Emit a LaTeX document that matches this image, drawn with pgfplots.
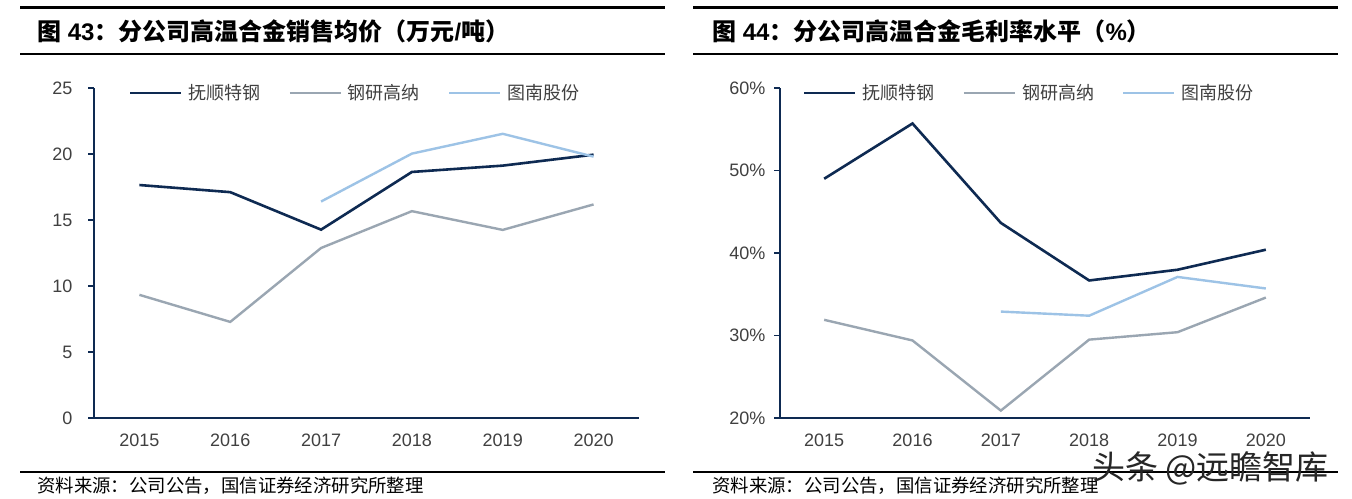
\documentclass[border=0pt]{standalone}
\usepackage{pgfplots}
\pgfplotsset{compat=1.18}
\usepackage{fontspec}
\setmainfont{Liberation Sans}
\newfontfamily\cjk{Noto Sans CJK SC}
\definecolor{navy}{HTML}{0E2A52}
\definecolor{gry}{HTML}{9AA6B2}
\definecolor{lblue}{HTML}{9DC3E6}
\definecolor{tickc}{HTML}{404040}
\pgfplotsset{
  myax/.style={
    scale only axis, height=330pt,
    xmin=-0.5, xmax=5.5,
    xtick={0,...,5}, xticklabels={2015,2016,2017,2018,2019,2020},
    axis x line*=bottom, axis y line*=left,
    axis line style={navy, line width=1.4pt, -},
    x tick style={draw=none},
    y tick style={navy, line width=1.2pt},
    tick align=outside, major tick length=6pt,
    tick label style={font=\fontsize{18}{18}\selectfont, text=tickc},
    xticklabel style={yshift=-6pt},
    /pgf/number format/assume math mode=true,
    legend columns=3,
    legend style={draw=none, fill=none, inner sep=0pt, outer sep=0pt,
      nodes={inner sep=0pt, font=\cjk\fontsize{18}{18}\selectfont, text=tickc},
      /tikz/every odd column/.append style={column sep=6pt},
      /tikz/every even column/.append style={column sep=28pt}},
    legend image code/.code={\draw[#1] (0pt,0pt) -- (51pt,0pt);},
    clip=false,
  },
  s1/.style={navy, line width=2.6pt},
  s2/.style={gry, line width=2.4pt},
  s3/.style={lblue, line width=2.4pt},
}
\begin{document}
\begin{tikzpicture}
\path[use as bounding box, fill=white] (0pt,0pt) rectangle (1352pt,-498pt);
% header / footer rules
\draw[line width=2.2pt] (20pt,-7.5pt) -- (665pt,-7.5pt);
\draw[line width=2.2pt] (20pt,-54pt) -- (665pt,-54pt);
\draw[line width=2.2pt] (693pt,-7.5pt) -- (1338pt,-7.5pt);
\draw[line width=2.2pt] (693pt,-54pt) -- (1338pt,-54pt);
\draw[line width=2.2pt] (20pt,-472pt) -- (665pt,-472pt);
\draw[line width=2.2pt] (693pt,-472pt) -- (1338pt,-472pt);
% titles
\node[anchor=west, inner sep=0pt] at (37pt,-31pt) {\fontsize{24}{24}\selectfont\bfseries{\cjk 图} 43{\cjk ：分公司高温合金销售均价（万元}/{\cjk 吨）}};
\node[anchor=west, inner sep=0pt] at (712pt,-31pt) {\fontsize{24}{24}\selectfont\bfseries{\cjk 图} 44{\cjk ：分公司高温合金毛利率水平（}\%{\cjk ）}};
% sources
\node[anchor=west, inner sep=0pt] at (37pt,-486pt) {\cjk\fontsize{18.4}{18.4}\selectfont 资料来源：公司公告，国信证券经济研究所整理};
\node[anchor=west, inner sep=0pt] at (712pt,-486pt) {\cjk\fontsize{18.4}{18.4}\selectfont 资料来源：公司公告，国信证券经济研究所整理};

\begin{axis}[myax, at={(94pt,-418pt)}, anchor=south west, width=545pt,
  ymin=0, ymax=25, ytick={0,5,10,15,20,25},
  yticklabel style={xshift=-12pt},
  legend style={at={(axis description cs:0.0642,0.985)}, anchor=west}]
\addplot[s1] coordinates {(0,17.65) (1,17.11) (2,14.27) (3,18.64) (4,19.12) (5,19.95)};
\addlegendentry{抚顺特钢}
\addplot[s2] coordinates {(0,9.33) (1,7.28) (2,12.88) (3,15.67) (4,14.25) (5,16.18)};
\addlegendentry{钢研高纳}
\addplot[s3] coordinates {(2,16.40) (3,20.03) (4,21.53) (5,19.80)};
\addlegendentry{图南股份}
\end{axis}

\begin{axis}[myax, at={(780pt,-418pt)}, anchor=south west, width=530pt,
  ymin=20, ymax=60, ytick={20,30,40,50,60},
  yticklabel={\pgfmathprintnumber{\tick}\%},
  yticklabel style={xshift=-5pt},
  legend style={at={(axis description cs:0.0434,0.985)}, anchor=west}]
\addplot[s1] coordinates {(0,49.0) (1,55.7) (2,43.65) (3,36.67) (4,37.97) (5,40.4)};
\addlegendentry{抚顺特钢}
\addplot[s2] coordinates {(0,31.9) (1,29.4) (2,20.9) (3,29.5) (4,30.4) (5,34.6)};
\addlegendentry{钢研高纳}
\addplot[s3] coordinates {(2,32.9) (3,32.4) (4,37.1) (5,35.7)};
\addlegendentry{图南股份}
\end{axis}

% watermark
\node[anchor=west, inner sep=0pt, text=black!85] at (1092pt,-468pt) {\cjk\fontsize{33}{33}\selectfont 头条 @远瞻智库};
\end{tikzpicture}
\end{document}
